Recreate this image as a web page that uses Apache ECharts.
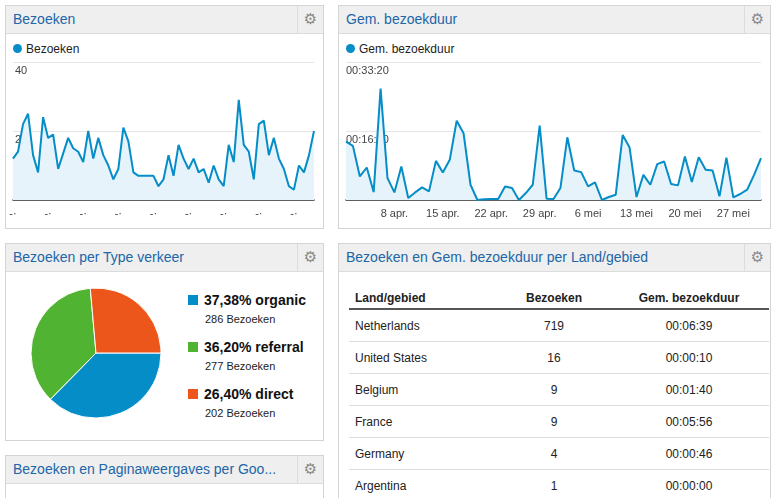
<!DOCTYPE html>
<html><head><meta charset="utf-8">
<script src="https://cdn.jsdelivr.net/npm/echarts@6/dist/echarts.min.js"></script>
<style>
body{margin:0;width:774px;height:498px;overflow:hidden;background:#fff;font-family:Arial,"Liberation Sans",sans-serif;position:relative}
.p{position:absolute;border:1px solid #d4d4d4;background:#fff;box-sizing:border-box}
.h{position:absolute;left:0;right:0;top:0;height:27px;background:#efefef;border-bottom:1px solid #dcdcdc}
.t{position:absolute;left:7px;top:5px;font-size:14px;color:#2166a8;white-space:nowrap}
.g{position:absolute;right:0;top:0;width:25px;height:27px;border-left:1px solid #dcdcdc;color:#888;font-size:15px;text-align:center;line-height:27px;font-family:"DejaVu Sans"}
.lg{position:absolute;font-size:12px;color:#222}
.dot{display:inline-block;width:9px;height:9px;border-radius:50%;background:#058dc7;margin-right:4px}
table{position:absolute;left:10px;top:44px;width:420px;border-collapse:collapse;font-size:12px;color:#222;table-layout:fixed}
th{font-weight:bold;height:20px;border-bottom:2px solid #555;text-align:center;padding:0}
td{height:31px;border-bottom:1px solid #ddd;text-align:center;padding:0}
td:first-child,th:first-child{text-align:left;padding-left:6px}
.leg{position:absolute;left:182px;font-size:14px;font-weight:bold;color:#111}
.leg span.sq{display:inline-block;width:10px;height:10px;margin-right:6px}
.leg div{font-size:11px;font-weight:normal;margin:5px 0 0 17px;color:#222}
</style></head><body>
<div class="p" style="left:5px;top:5px;width:319px;height:224px"><div class="h"><div class="t">Bezoeken</div><div class="g">⚙</div></div><div class="lg" style="left:7px;top:36px"><span class="dot"></span>Bezoeken</div></div>
<div class="p" style="left:338px;top:5px;width:433px;height:224px"><div class="h"><div class="t">Gem. bezoekduur</div><div class="g">⚙</div></div><div class="lg" style="left:7px;top:36px"><span class="dot"></span>Gem. bezoekduur</div></div>
<div class="p" style="left:5px;top:243px;width:319px;height:198px"><div class="h"><div class="t">Bezoeken per Type verkeer</div><div class="g">⚙</div></div>
<div class="leg" style="top:48px"><span class="sq" style="background:#058dc7"></span>37,38% organic<div>286 Bezoeken</div></div>
<div class="leg" style="top:95px"><span class="sq" style="background:#50b432"></span>36,20% referral<div>277 Bezoeken</div></div>
<div class="leg" style="top:142px"><span class="sq" style="background:#ed561b"></span>26,40% direct<div>202 Bezoeken</div></div>
</div>
<div class="p" style="left:338px;top:243px;width:433px;height:270px"><div class="h"><div class="t">Bezoeken en Gem. bezoekduur per Land/gebied</div><div class="g">⚙</div></div><table id="tb"><colgroup><col style="width:150px"><col style="width:110px"><col></colgroup></table></div>
<div class="p" style="left:5px;top:455px;width:319px;height:60px"><div class="h"><div class="t">Bezoeken en Paginaweergaves per Goo...</div><div class="g">⚙</div></div></div>
<div id="c1" style="position:absolute;left:5px;top:33px;width:318px;height:195px"></div>
<div id="c2" style="position:absolute;left:338px;top:33px;width:432px;height:195px"></div>
<div id="c3" style="position:absolute;left:5px;top:271px;width:180px;height:165px"></div>
<script>
const dates=[];
for(let i=0;i<61;i++){dates.push(i<30?(i+1)+' apr.':(i-29)+' mei');}
const visits=[12,14,22,25,13,8,24,18,19,9,13.5,18,15,14,11,20,12,18,13,10,6,9,21,17,8,7,7,7,7,4,6,13,7,16,12,9,12,8,9,5,10,6,4,16,11,29,16,14,6,22,23,13,18,12,9,4,3,10,8,13,20];
const duration=[846,784,341,471,115,1615,317,110,485,29,110,183,125,567,399,582,1149,966,221,0,10,14,14,197,173,0,101,221,1077,19,14,173,909,428,404,197,255,0,43,77,942,760,43,365,221,519,558,231,212,630,260,620,438,428,53,615,38,87,149,365,606];
const trafficTypes=['organic','referral','direct'];
const trafficVisits=[286,277,202];
const countries=['Netherlands','United States','Belgium','France','Germany','Argentina'];
const countryVisits=[719,16,9,9,4,1];
const countryDur=['00:06:39','00:00:10','00:01:40','00:05:56','00:00:46','00:00:00'];
let h='<tr><th>Land/gebied</th><th>Bezoeken</th><th>Gem. bezoekduur</th></tr>';
countries.forEach((c,i)=>{h+='<tr><td>'+c+'</td><td>'+countryVisits[i]+'</td><td>'+countryDur[i]+'</td></tr>';});
document.getElementById('tb').insertAdjacentHTML('beforeend',h);
function fmt(s){const p=n=>String(n).padStart(2,'0');return p(Math.floor(s/3600))+':'+p(Math.floor(s%3600/60))+':'+p(s%60);}
function line(el,data,max,intv,lfmt,xlab,lpad){
 echarts.init(document.getElementById(el)).setOption({animation:false,
  grid:{left:8,right:9,top:29,bottom:28},
  xAxis:{type:'category',data:dates,boundaryGap:false,axisLine:{lineStyle:{color:'#333',width:1.5}},axisTick:{show:false},
   axisLabel:{interval:0,formatter:xlab,color:'#444',fontSize:11,margin:8},splitLine:{show:false}},
  yAxis:{type:'value',min:0,max:max,interval:intv,axisLine:{show:false},axisTick:{show:false},
   splitLine:{lineStyle:{color:'#e6e6e6'}},
   axisLabel:{inside:true,verticalAlign:'top',color:'#444',fontSize:11,margin:-2,padding:[3,0,0,lpad],formatter:v=>v===0?'':lfmt(v)}},
  series:[{type:'line',data:data,symbol:'none',lineStyle:{color:'#058dc7',width:2},areaStyle:{color:'#e6f3fa',opacity:1}}]});
}
line('c1',visits,40,20,v=>String(v),(v,i)=>i%7===0?'-·':'',4);
line('c2',duration,2000,1000,fmt,(v,i)=>(i>=7&&i%7===0)?v:'',2);
echarts.init(document.getElementById('c3')).setOption({animation:false,color:['#058dc7','#50b432','#ed561b'],
 series:[{type:'pie',center:[91,82],radius:65,startAngle:0,clockwise:true,label:{show:false},
  itemStyle:{borderColor:'#fff',borderWidth:1},
  data:trafficTypes.map((n,i)=>({name:n,value:trafficVisits[i]}))}]});
</script></body></html>
